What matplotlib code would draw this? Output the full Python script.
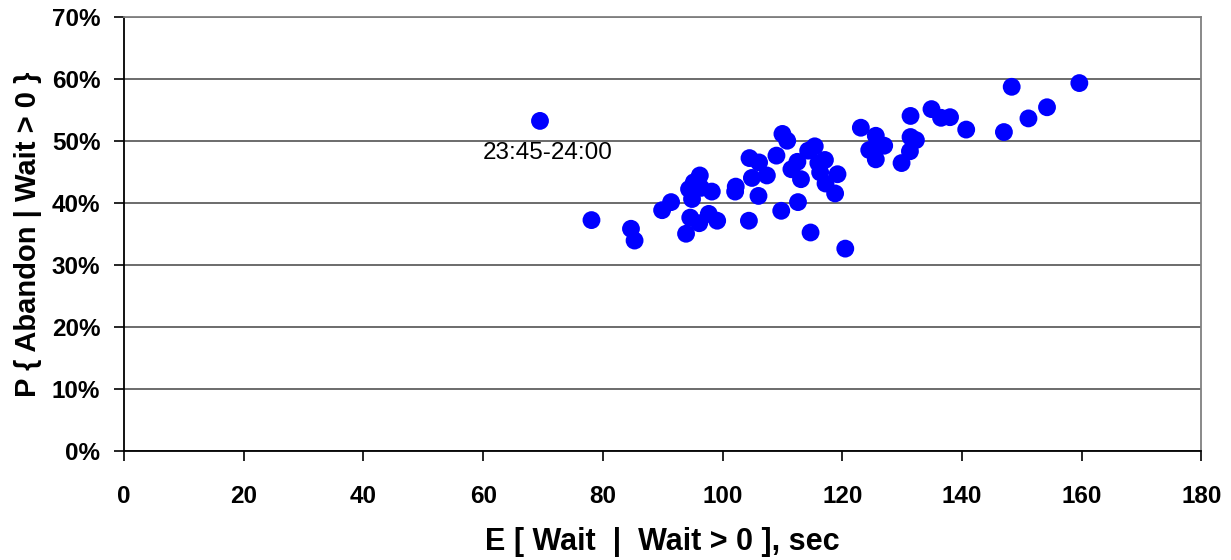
import matplotlib
matplotlib.use("Agg")
import matplotlib.pyplot as plt
from matplotlib.ticker import FuncFormatter

plt.rcParams['font.family'] = ['Liberation Sans', 'DejaVu Sans']

# E[Wait | Wait > 0] in seconds, P{Abandon | Wait > 0} in percent
wait_sec = [
    69.5, 78.1, 84.7, 85.3, 89.9, 91.4, 93.9, 94.6, 94.9, 94.4,
    95.2, 96.2, 98.2, 96.4, 96.1, 97.7, 99.1, 102.2, 102.1, 104.5,
    106.1, 104.9, 107.4, 106.0, 104.4, 109.8, 109.0, 110.0, 110.8, 111.5,
    112.5, 113.1, 112.6, 114.3, 115.4, 116.0, 117.1, 116.3, 117.2, 119.2,
    118.8, 114.7, 120.5, 123.1, 125.6, 127.0, 124.5, 125.6, 131.4, 131.4,
    132.3, 131.3, 129.9, 134.9, 136.5, 138.0, 140.7, 147.0, 148.3, 151.1,
    154.2, 159.6,
]
abandon_pct = [
    53.3, 37.3, 35.9, 34.0, 38.9, 40.2, 35.1, 37.7, 40.7, 42.3,
    43.4, 44.5, 41.9, 42.5, 36.8, 38.3, 37.2, 42.7, 41.9, 47.3,
    46.6, 44.1, 44.5, 41.2, 37.2, 38.8, 47.7, 51.2, 50.1, 45.5,
    46.7, 43.9, 40.2, 48.5, 49.2, 46.5, 47.0, 45.0, 43.2, 44.7,
    41.6, 35.3, 32.7, 52.2, 50.9, 49.3, 48.6, 47.1, 54.1, 50.7,
    50.2, 48.4, 46.5, 55.2, 53.8, 53.9, 51.9, 51.5, 58.8, 53.7,
    55.5, 59.4,
]
outlier_label = "23:45-24:00"
x_ticks = list(range(0, 181, 20))
y_ticks = list(range(0, 71, 10))

fig = plt.figure(figsize=(12.31, 5.6), dpi=100)
ax = fig.add_axes([0.1007, 0.194, 0.8753, 0.775])

ax.scatter(wait_sec, abandon_pct, s=165, color='#0000FF', edgecolors='none', zorder=3)
ax.text(60.0, 48.1, outlier_label, fontsize=17.5, va='center', ha='left', color='black')

ax.set_xlim(0, 180)
ax.set_ylim(0, 70)
ax.set_xticks(x_ticks)
ax.set_yticks(y_ticks)
ax.yaxis.set_major_formatter(FuncFormatter(lambda v, p: f"{int(v)}%"))

ax.grid(axis='y', color='#606060', linewidth=1.3)
ax.set_axisbelow(True)

for side in ['top', 'right']:
    ax.spines[side].set_color('#808080')
    ax.spines[side].set_linewidth(1.3)
for side in ['left', 'bottom']:
    ax.spines[side].set_color('black')
    ax.spines[side].set_linewidth(1.3)

ax.tick_params(axis='both', direction='out', length=7, width=1.2, color='black',
               labelsize=17.5)
ax.tick_params(axis='x', pad=17)
ax.tick_params(axis='y', pad=10)
for lab in ax.get_xticklabels() + ax.get_yticklabels():
    lab.set_fontweight('bold')

ax.set_xlabel('E [ Wait  |  Wait > 0 ], sec', fontsize=22, fontweight='bold', labelpad=14)
ax.set_ylabel('P { Abandon | Wait > 0 }', fontsize=21, fontweight='bold', labelpad=7)

fig.savefig('out.png', dpi=100)
